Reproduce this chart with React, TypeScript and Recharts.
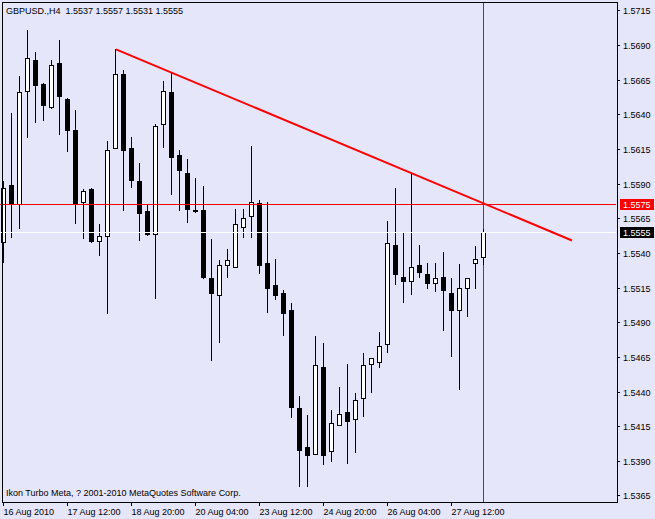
import { ComposedChart, Bar, Line, XAxis, YAxis, ReferenceLine } from "recharts"

// GBPUSD H4, 16 Aug 2010 04:00 -> 27 Aug 12:00 (61 bars)
const opens = [
  1.5548, 1.5589, 1.5575, 1.5657, 1.5679, 1.5662, 1.5645, 1.5677, 1.5651, 1.5629,
  1.5577, 1.5586, 1.5549, 1.5552, 1.5616, 1.5669, 1.5616, 1.5592, 1.5570, 1.5554,
  1.5633, 1.5656, 1.5611, 1.5598, 1.5571, 1.5571, 1.5522, 1.5510, 1.5531, 1.5530,
  1.5559, 1.5567, 1.5576, 1.5533, 1.5517, 1.5511, 1.5499, 1.5428, 1.5400, 1.5395,
  1.5458, 1.5397, 1.5416, 1.5425, 1.5420, 1.5435, 1.5460, 1.5461, 1.5474, 1.5546,
  1.5523, 1.5520, 1.5531, 1.5525, 1.5518, 1.5523, 1.5511, 1.5499, 1.5515, 1.5533,
  1.5537,
]
const highs = [
  1.5592, 1.5641, 1.5668, 1.5701, 1.5685, 1.5663, 1.5679, 1.5694, 1.5652, 1.5643,
  1.5586, 1.5587, 1.5561, 1.5621, 1.5687, 1.5672, 1.5624, 1.5605, 1.5575, 1.5633,
  1.5664, 1.5670, 1.5614, 1.5608, 1.5594, 1.5588, 1.5550, 1.5535, 1.5543, 1.5572,
  1.5572, 1.5617, 1.5578, 1.5577, 1.5536, 1.5513, 1.5504, 1.5437, 1.5423, 1.5480,
  1.5475, 1.5427, 1.5443, 1.5460, 1.5439, 1.5468, 1.5464, 1.5483, 1.5563, 1.5587,
  1.5555, 1.5597, 1.5546, 1.5533, 1.5533, 1.5541, 1.5522, 1.5532, 1.5522, 1.5545,
  1.5557,
]
const lows = [
  1.5533, 1.5551, 1.5557, 1.5623, 1.5634, 1.5635, 1.5644, 1.5625, 1.5613, 1.5561,
  1.5550, 1.5547, 1.5538, 1.5496, 1.5615, 1.5570, 1.5587, 1.5549, 1.5552, 1.5507,
  1.5616, 1.5582, 1.5570, 1.5562, 1.5569, 1.5521, 1.5462, 1.5475, 1.5522, 1.5529,
  1.5551, 1.5551, 1.5525, 1.5497, 1.5506, 1.5480, 1.5421, 1.5371, 1.5371, 1.5395,
  1.5387, 1.5389, 1.5415, 1.5388, 1.5396, 1.5422, 1.5439, 1.5457, 1.5468, 1.5517,
  1.5504, 1.5510, 1.5522, 1.5514, 1.5512, 1.5484, 1.5465, 1.5441, 1.5494, 1.5514,
  1.5531,
]
const closes = [
  1.5587, 1.5576, 1.5656, 1.5681, 1.5661, 1.5647, 1.5676, 1.5653, 1.5629, 1.5575,
  1.5585, 1.5549, 1.5552, 1.5614, 1.5669, 1.5614, 1.5593, 1.5569, 1.5554, 1.5632,
  1.5657, 1.5609, 1.5600, 1.5572, 1.5570, 1.5523, 1.5511, 1.5531, 1.5535, 1.5561,
  1.5565, 1.5577, 1.5531, 1.5515, 1.5510, 1.5497, 1.5429, 1.5398, 1.5394, 1.5459,
  1.5394, 1.5417, 1.5424, 1.5419, 1.5434, 1.5459, 1.5464, 1.5473, 1.5547, 1.5525,
  1.5520, 1.5530, 1.5526, 1.5518, 1.5522, 1.5513, 1.5499, 1.5515, 1.5522, 1.5536,
  1.5555,
]

// one label every 8 bars
const timeLabels = [
  "16 Aug 2010", "17 Aug 12:00", "18 Aug 20:00", "20 Aug 04:00",
  "23 Aug 12:00", "24 Aug 20:00", "26 Aug 04:00", "27 Aug 12:00",
]
const priceTicks = [
  1.5365, 1.539, 1.5415, 1.544, 1.5465, 1.549, 1.5515, 1.554,
  1.5565, 1.559, 1.5615, 1.564, 1.5665, 1.569, 1.5715,
]

const trendBars = [14, 71]
const trendPrices = [1.5687, 1.5549]
const levelPrice = 1.5575
const bidPrice = 1.5555
const cursorBar = 60

const TOTAL_BARS = 77
const Y_DOMAIN: [number, number] = [1.5360309, 1.5721134]
const FONT = "'Liberation Sans', Arial, sans-serif"
const BG = "#E6E6FA"

const data = Array.from({ length: TOTAL_BARS }, (_, i) => {
  const row: any = { i }
  if (i < opens.length) {
    row.o = opens[i]
    row.h = highs[i]
    row.l = lows[i]
    row.c = closes[i]
    row.range = [lows[i], highs[i]]
  }
  // full-height marker for the cursor bar, drawn behind the candles
  if (i === cursorBar) row.cursor = Y_DOMAIN
  const t = trendBars.indexOf(i)
  if (t >= 0) row.trend = trendPrices[t]
  return row
})

function Candle(props: any) {
  const { x, y, width, height, payload } = props
  if (!payload || payload.o == null) return null
  const { o, c, h, l } = payload
  const toY = (p: number) => (h === l ? y : y + ((h - p) / (h - l)) * height)
  const cx = x + width / 2 - 0.5
  const top = Math.round(toY(Math.max(o, c)))
  const bot = Math.round(toY(Math.min(o, c)))
  const bull = c >= o
  return (
    <g>
      <line x1={cx} x2={cx} y1={Math.round(y)} y2={Math.round(y + height)} stroke="#000" />
      <rect
        x={cx - 2}
        y={top + 0.5}
        width={4}
        height={Math.max(bot - top, 1)}
        fill={bull ? "#fff" : "#000"}
        stroke="#000"
      />
    </g>
  )
}

function CursorLine(props: any) {
  const { x, y, width, height, payload } = props
  if (!payload || payload.cursor == null) return null
  const cx = x + width / 2 - 0.5
  return <line x1={cx} x2={cx} y1={y} y2={y + height} stroke="#ff0000" />
}

function TimeTick(props: any) {
  const { x, y, payload } = props
  const idx = payload.value
  if (idx % 8 !== 0) return null
  const label = timeLabels[idx / 8]
  if (!label) return null
  const tx = x - 0.5
  return (
    <g>
      <line x1={tx} x2={tx} y1={y} y2={y + 4} stroke="#000" />
      <text x={tx} y={y + 12.5} fontSize={9} fontFamily={FONT} fill="#000">
        {label}
      </text>
    </g>
  )
}

function PriceTick(props: any) {
  const { x, y, payload } = props
  const yy = Math.round(y) + 0.5
  return (
    <g>
      <line x1={x + 1} x2={x + 4} y1={yy} y2={yy} stroke="#000" />
      <text x={x + 7} y={yy + 3} fontSize={9} fontFamily={FONT} fill="#000">
        {payload.value.toFixed(4)}
      </text>
    </g>
  )
}

function priceTag(value: number, bg: string) {
  return (p: any) => {
    const vb = p.viewBox || {}
    const right = (vb.x ?? 0) + (vb.width ?? 0)
    const yy = Math.round(vb.y ?? 0)
    return (
      <g>
        <rect x={right + 4} y={yy - 5} width={34} height={11} fill={bg} />
        <text x={right + 7} y={yy + 4} fontSize={9} fontFamily={FONT} fill="#fff">
          {value.toFixed(4)}
        </text>
      </g>
    )
  }
}

export default function App() {
  return (
    <div style={{ position: "absolute", left: 0, top: 0, width: 655, height: 519, background: BG }}>
      <ComposedChart
        width={655}
        height={519}
        data={data}
        margin={{ top: 2, right: 1, bottom: 0, left: 0 }}
        barCategoryGap={0}
      >
        <XAxis
          dataKey="i"
          type="category"
          height={17}
          interval={0}
          tickSize={0}
          tickMargin={0}
          axisLine={false}
          tickLine={false}
          tick={<TimeTick />}
        />
        <XAxis xAxisId="cursor" dataKey="i" type="category" hide />
        <YAxis
          orientation="right"
          type="number"
          domain={Y_DOMAIN}
          allowDataOverflow
          ticks={priceTicks}
          interval={0}
          width={38}
          tickSize={0}
          tickMargin={0}
          axisLine={false}
          tickLine={false}
          tick={<PriceTick />}
        />
        <Bar xAxisId="cursor" dataKey="cursor" shape={<CursorLine />} isAnimationActive={false} />
        <Bar dataKey="range" shape={<Candle />} isAnimationActive={false} />
        <ReferenceLine
          y={bidPrice}
          stroke="#ffffff"
          shapeRendering="crispEdges"
          label={priceTag(bidPrice, "#000")}
        />
        <ReferenceLine
          y={levelPrice}
          stroke="#ff0000"
          shapeRendering="crispEdges"
          label={priceTag(levelPrice, "#ff0000")}
        />
        <Line
          dataKey="trend"
          stroke="#ff0000"
          strokeWidth={2}
          dot={false}
          activeDot={false}
          connectNulls
          isAnimationActive={false}
        />
      </ComposedChart>
      <svg
        width={655}
        height={519}
        style={{ position: "absolute", left: 0, top: 0, pointerEvents: "none" }}
      >
        <rect x={2.5} y={2.5} width={615} height={500} fill="none" stroke="#000" />
        <text x={6} y={13.5} fontSize={9} fontFamily={FONT} fill="#000" style={{ whiteSpace: "pre" }}>
          {"GBPUSD.,H4  1.5537 1.5557 1.5531 1.5555"}
        </text>
        <text x={6} y={495.5} fontSize={9} fontFamily={FONT} fill="#000">
          Ikon Turbo Meta, ? 2001-2010 MetaQuotes Software Corp.
        </text>
      </svg>
    </div>
  )
}
